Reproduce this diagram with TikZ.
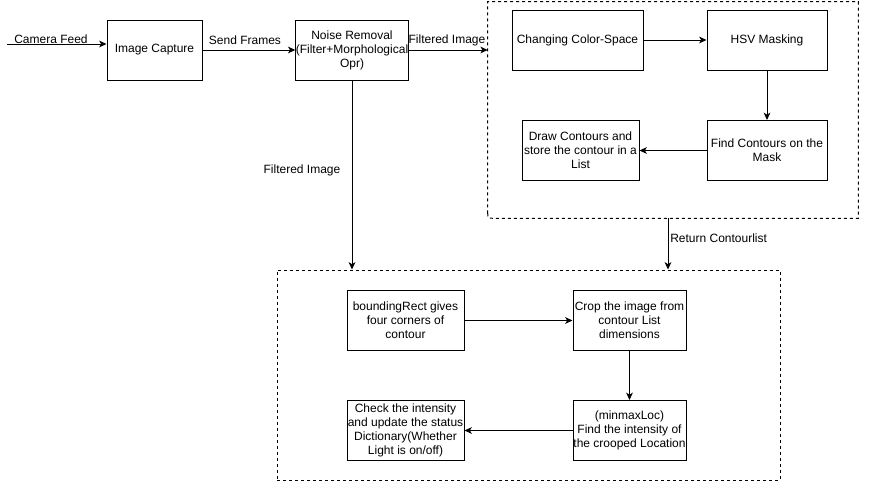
\documentclass[tikz,border=0pt]{standalone}
\usepackage{fontspec}
\setmainfont{Liberation Sans}
\usetikzlibrary{arrows.meta,calc}
\begin{document}
\begin{tikzpicture}[x=0.75pt,y=-0.75pt,
  every node/.style={font=\fontsize{9}{10.5}\selectfont, align=center},
  box/.style={draw, line width=0.75pt, minimum height=45pt, inner sep=0pt},
  dashline/.style={line width=0.75pt, dash pattern=on 2.25pt off 2.25pt},
  cont/.style={draw, dashline, inner sep=0pt},
  lbl/.style={inner sep=0pt},
  conn/.style={line width=0.75pt, -{Stealth[length=5.5pt,width=5pt,inset=1.5pt]}}]
\useasboundingbox (0,0) rectangle (869,482);
% containers
\node[inner sep=0pt, minimum width=277.5pt, minimum height=162pt] (top) at (673,110) {};
\draw[dashline] ($(top.south west)+(0,-5)$) -- (top.north west) -- (top.north east) -- (top.south east) -- ($(top.south west)+(5,0)$) .. controls (top.south west) .. ($(top.south west)+(0,-5)$);
\node[cont, minimum width=377.25pt, minimum height=157.5pt] (bot) at (528.5,375) {};
% main boxes
\node[box, minimum width=71.25pt] (ic) at (154.5,50) {Image Capture};
\node[box, minimum width=82.5pt] (nr) at (352,50) {Noise Removal\\(Filter+Morphological\\Opr)};
% top container boxes
\node[box, minimum width=98.25pt] (ccs) at (577.5,40) {Changing Color-Space};
\node[box, minimum width=90pt] (hsv) at (767,40) {HSV Masking};
\node[box, minimum width=90pt] (fc) at (767,150.5) {Find Contours on the\\Mask};
\node[box, minimum width=87.75pt] (dc) at (580.5,150.5) {Draw Contours and\\store the contour in a\\List};
% bottom container boxes
\node[box, minimum width=87.75pt] (br) at (405.5,320.5) {boundingRect gives\\four corners of\\contour};
\node[box, minimum width=84.75pt] (crop) at (629.5,320.5) {Crop the image from\\contour List\\dimensions};
\node[box, minimum width=84.75pt] (mm) at (629.5,430.5) {(minmaxLoc)\\Find the intensity of\\the crooped Location};
\node[box, minimum width=87.75pt] (chk) at (405.5,430.5) {Check the intensity\\and update the status\\Dictionary(Whether\\Light is on/off)};
% coordinates
\coordinate (cam) at (7,44);
\coordinate (ret) at (668,218);
% connectors
\draw[conn] (cam) -- (cam -| ic.west);
\draw[conn] (ic.east) -- (nr.west);
\draw[conn] (nr.east) -- (nr.east -| top.west);
\draw[conn] (nr.south) -- (nr.south |- bot.north);
\draw[conn] (ret |- top.south) -- (ret |- bot.north);
\draw[conn] (ccs.east) -- (hsv.west);
\draw[conn] (hsv.south) -- (fc.north);
\draw[conn] (fc.west) -- (dc.east);
\draw[conn] (br.east) -- (crop.west);
\draw[conn] (crop.south) -- (mm.north);
\draw[conn] (mm.west) -- (chk.east);
% labels
\node[lbl] (lcam) at (51,39) {Camera Feed};
\node[lbl] (lsf) at (245,40) {Send Frames};
\node[lbl] (lfi1) at (447,40) {Filtered Image};
\node[lbl] (lfi2) at (302,170) {Filtered Image};
\node[lbl, anchor=west] (lret) at (670,238) {Return Contourlist};
\end{tikzpicture}
\end{document}
